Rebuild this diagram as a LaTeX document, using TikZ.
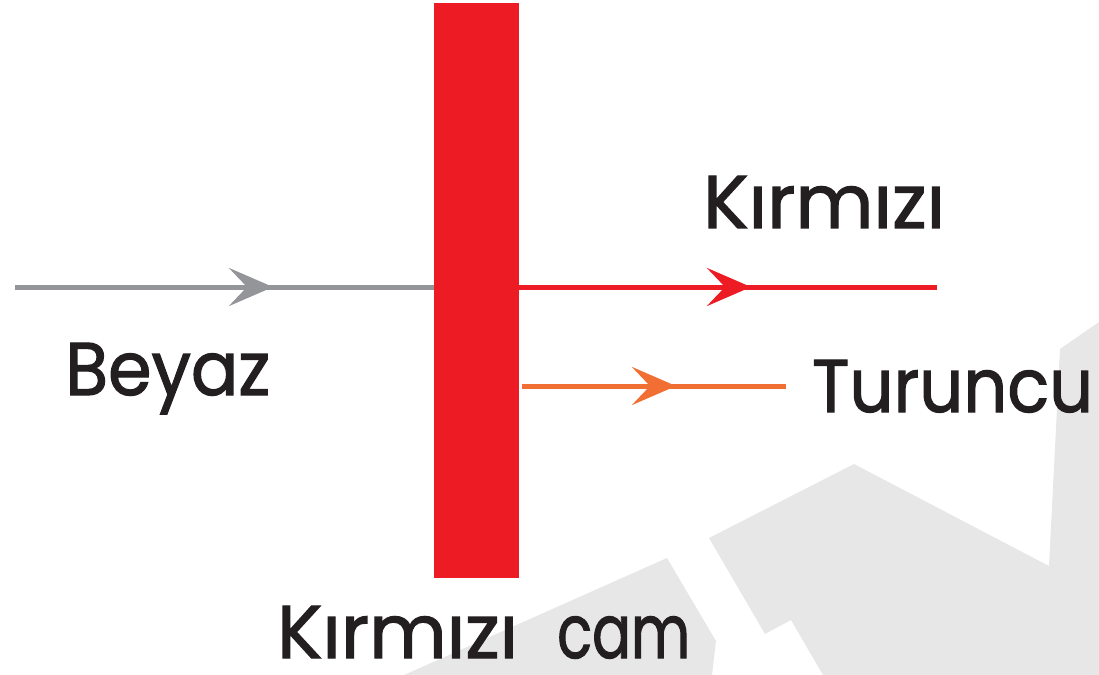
\documentclass[tikz,border=0pt]{standalone}
\usepackage{fontspec}
\usepackage{graphicx}
\newfontfamily\lblfont{Poppins}[FakeBold=1.6]
\usetikzlibrary{arrows.meta,decorations.markings}
\definecolor{glassred}{HTML}{ED1C24}
\definecolor{rayorange}{HTML}{F26F33}
\definecolor{raygray}{HTML}{939598}
\definecolor{txt}{HTML}{231F20}
\definecolor{bgshape}{HTML}{E7E7E8}
\newcommand\fitw[2]{\resizebox{#1}{\height}{#2}}
\tikzset{
  ray/.style={line width=5bp},
  head/.style={decoration={markings, mark=at position #1 with {\arrow{Stealth[length=44bp,width=38bp,inset=18bp]}}}, postaction={decorate}},
  lbl/.style={anchor=base west, inner sep=0pt, text=txt, font=\lblfont\fontsize{75}{80}\selectfont},
}
\begin{document}
\begin{tikzpicture}[x=1bp,y=-1bp]
\useasboundingbox (0,0) rectangle (1099,675);
% background shapes
\fill[bgshape] (404,675) -- (667,558) -- (716,641) -- (712,675) -- cycle;
\fill[bgshape] (709,538) -- (854,464) -- (1049,566) -- (1060,349) -- (1099,322) -- (1099,675) -- (823,675) -- (791,620) -- (765,634) -- cycle;
% glass
\node[fill=glassred, inner sep=0pt, minimum width=85bp, minimum height=575bp, anchor=north west] (glass) at (434,3) {};
% ray endpoints
\coordinate (src) at (15,287);
\coordinate (gin) at (434,287);
\coordinate (rout) at (519,287);
\coordinate (rend) at (937,287);
\coordinate (oout) at (522,386);
\coordinate (oend) at (786,386);
\draw[ray, raygray, head=258bp] (src) -- (gin);
\draw[ray, glassred, head=232bp] (rout) -- (rend);
\draw[ray, rayorange, head=154bp] (oout) -- (oend);
% labels
\node[lbl] (kirmizi) at (703,228) {\fitw{242bp}{Kırmızı}};
\node[lbl] (beyaz) at (65,395) {\fitw{205bp}{Beyaz}};
\node[lbl] (turuncu) at (812,412) {\fitw{281bp}{Turuncu}};
\node[lbl] (cam) at (277,658) {\fitw{241bp}{Kırmızı}\hspace{39bp}\fitw{133bp}{cam}};
\end{tikzpicture}
\end{document}
